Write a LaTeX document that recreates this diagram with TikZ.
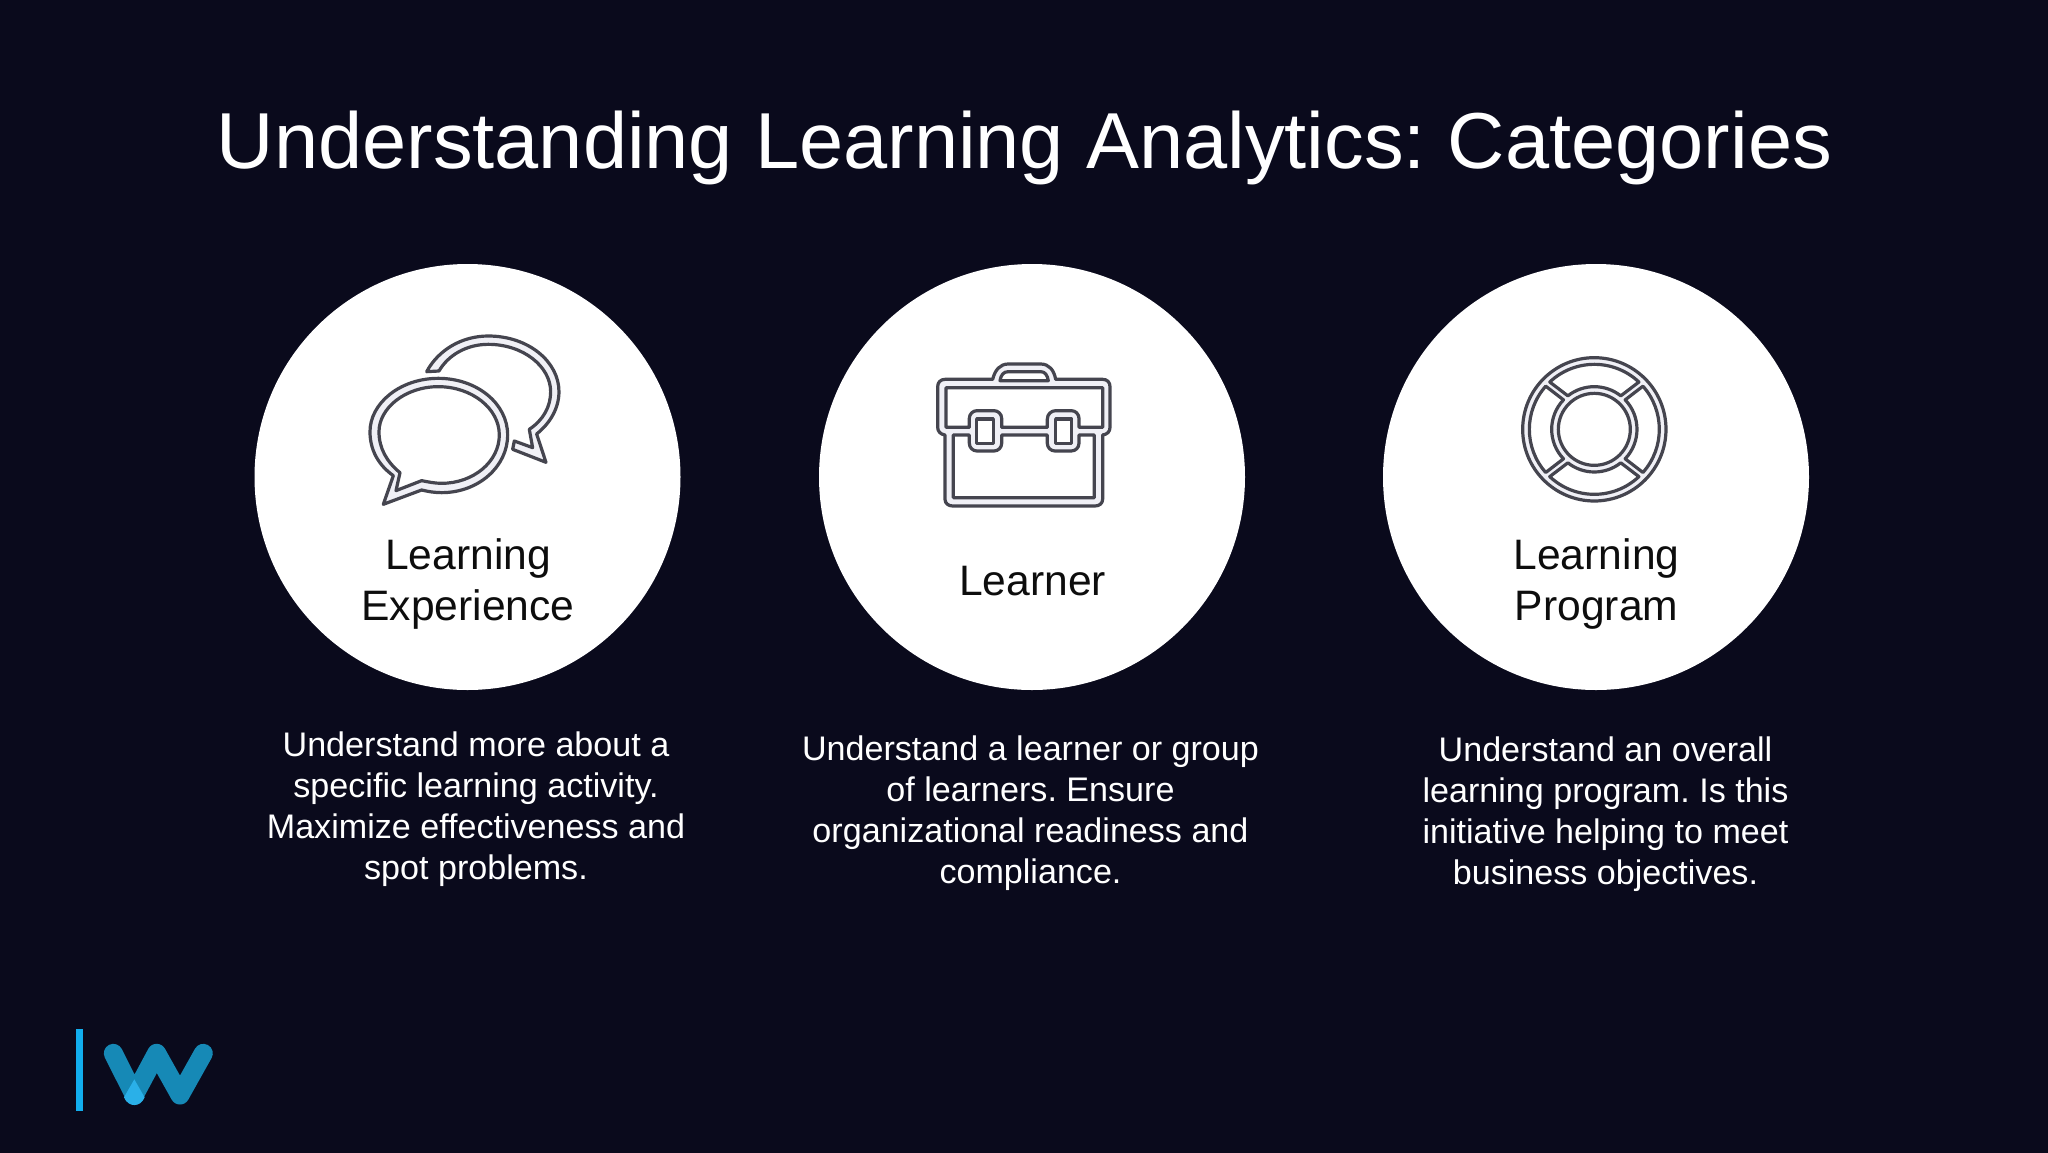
\documentclass[tikz,border=0pt]{standalone}
\usepackage{fontspec}
\setmainfont{Liberation Sans}
\frenchspacing
\definecolor{bgnavy}{HTML}{0A0A1C}
\definecolor{iconline}{HTML}{45454F}
\definecolor{iconband}{HTML}{F0F0F6}
\definecolor{logobar}{HTML}{12AEEE}
\definecolor{logow}{HTML}{1689B6}
\definecolor{logotip}{HTML}{2AB0E8}
\begin{document}
\begin{tikzpicture}[line cap=round,line join=round,x=1pt,y=-1pt,
  bigdisc/.style={circle,fill=white,minimum size=426pt,inner sep=0pt},
  titletext/.style={text=white,inner sep=0pt,font=\fontsize{79.4}{90}\selectfont},
  disctext/.style={text=black!95,inner sep=0pt,align=center,font=\fontsize{42.6}{51}\selectfont},
  desctext/.style={text=white,inner sep=0pt,align=center,font=\fontsize{34.1}{41}\selectfont},
  iconband/.style={draw=iconline,line width=3.2pt,fill=iconband},
  iconhole/.style={draw=iconline,line width=3.2pt,fill=white}]
\useasboundingbox (0,0) rectangle (2048,1152);
\fill [bgnavy] (-3,-3) rectangle (2051,1155);
\node [titletext] (title) at (1024.5,148) {Understanding Learning Analytics: Categories};
\node [bigdisc] (discA) at (467.5,477) {};
\node [bigdisc] (discB) at (1032,477) {};
\node [bigdisc] (discC) at (1596,477) {};
\node [disctext] (labelA) at (468,584) {Learning\\Experience};
\node [disctext] (labelB) at (1032.5,581) {Learner};
\node [disctext] (labelC) at (1596.5,584) {Learning\\Program};
\node [desctext] (descA) at (476,809) {Understand more about a\\specific learning activity.\\Maximize effectiveness and\\spot problems.};
\node [desctext] (descB) at (1030.5,813) {Understand a learner or group\\of learners. Ensure\\organizational readiness and\\compliance.};
\node [desctext] (descC) at (1605.5,814) {Understand an overall\\learning program. Is this\\initiative helping to meet\\business objectives.};
\begin{scope}[shift={(340,310)},x=0.3333pt,y=-0.3333pt]
\draw [iconband] (130,583)-- (245,540) .. controls (265,545) and (285,548) .. (305,548) .. controls (415,548) and (503,470) .. (503,375) .. controls (503,280) and (410,205) .. (295,205) .. controls (180,205) and (90,280) .. (90,365) .. controls (90,420) and (115,465) .. (160,497)-- cycle;
\draw [iconhole] (168,542)-- (245,512) .. controls (265,516) and (285,520) .. (305,520) .. controls (400,520) and (478,455) .. (478,375) .. controls (478,295) and (395,230) .. (295,230) .. controls (195,230) and (117,295) .. (117,365) .. controls (117,415) and (140,455) .. (180,488)-- cycle;
\draw [iconband] (260,185) .. controls (295,120) and (365,78) .. (445,78) .. controls (565,78) and (657,155) .. (657,245) .. controls (657,295) and (630,340) .. (590,372)-- (618,457)-- (518,418)-- (523,393)-- (578,413)-- (568,358) .. controls (610,330) and (632,290) .. (632,245) .. controls (632,170) and (550,103) .. (445,103) .. controls (380,103) and (325,135) .. (297,183)-- cycle;
\end{scope}
\begin{scope}[shift={(910,340)},x=0.3333pt,y=-0.3333pt]
\draw [iconband] (248,118) .. controls (255,90) and (270,72) .. (295,72)-- (392,72) .. controls (417,72) and (432,90) .. (437,118)-- (578,118) .. controls (592,118) and (600,127) .. (600,140)-- (600,262) .. controls (600,275) and (592,283) .. (578,285)-- (578,478) .. controls (578,490) and (568,498) .. (555,498)-- (128,498) .. controls (115,498) and (105,490) .. (105,478)-- (105,285) .. controls (92,283) and (83,275) .. (83,262)-- (83,140) .. controls (83,127) and (92,118) .. (105,118)-- cycle;
\draw [iconhole] (270,122) .. controls (273,105) and (280,95) .. (295,95)-- (392,95) .. controls (405,95) and (412,105) .. (415,122)-- cycle;
\draw [iconhole] (108,143)-- (578,143)-- (578,262)-- (507,262)-- (507,235) arc[start angle=0,end angle=-90,radius=23] -- (437,212) arc[start angle=-90,end angle=-180,radius=25] -- (412,262)-- (275,262)-- (275,235) arc[start angle=0,end angle=-90,radius=23] -- (201,212) arc[start angle=-90,end angle=-180,radius=23] -- (178,262)-- (108,262)-- cycle;
\draw [iconhole] (130,285)-- (178,285)-- (178,310) arc[start angle=180,end angle=90,radius=23] -- (252,333) arc[start angle=90,end angle=0,radius=23] -- (275,285)-- (412,285)-- (412,310) arc[start angle=180,end angle=90,radius=23] -- (484,333) arc[start angle=90,end angle=0,radius=23] -- (507,285)-- (553,285)-- (553,473)-- (130,473)-- cycle;
\draw [iconhole] (200,237) rectangle (250,310);
\draw [iconhole] (437,237) rectangle (485,310);
\end{scope}
\begin{scope}[shift={(1500,340)},x=0.3333pt,y=-0.3333pt]
\begin{scope}[shift={(283,268)}]
\draw [iconband] (0,0) circle [radius=215];
\foreach \ang/\wo/\wi in {0/43.3/38.3,90/41.6/43.7,180/43.3/38.3,270/41.6/43.7}
  \draw [iconhole,rotate=\ang] (270-\wo:195) arc[start angle=270-\wo,end angle=270+\wo,radius=195] -- (270+\wi:128) arc[start angle=270+\wi,end angle=270-\wi,radius=128] -- cycle;
\draw [iconhole] (0,0) circle [radius=108];
\end{scope}
\end{scope}
\begin{scope}[shift={(50,1010)},x=0.3333pt,y=-0.3333pt]
\fill [logobar] (77,57) rectangle (99,304);
\draw [logow,line width=19pt,line cap=round,line join=round] (190,130)-- (253,255)-- (320,130)-- (390,255)-- (460,130);
\fill [logotip] (253,208)-- (222,262) .. controls (235,293) and (271,293) .. (284,262)-- cycle;
\end{scope}
\end{tikzpicture}
\end{document}
